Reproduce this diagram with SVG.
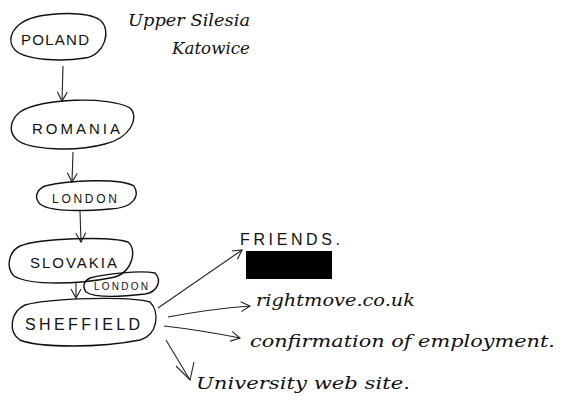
<svg xmlns="http://www.w3.org/2000/svg" width="561" height="407" viewBox="0 0 561 407">
<style>
.n{fill:none;stroke:#111;stroke-width:1.4}
.c{fill:none;stroke:#222;stroke-width:1.1}
.t{font-family:"Liberation Sans",Arial,sans-serif;fill:#111}
.cap{font-size:15px}
.h{font-family:"DejaVu Serif","Liberation Serif",serif;font-style:italic;fill:#111;font-size:17px}
</style>
<defs>
<marker id="ah" markerWidth="12" markerHeight="12" refX="10" refY="6" orient="auto" markerUnits="userSpaceOnUse">
<path d="M1,1 L10,6 L1,11" fill="none" stroke="#222" stroke-width="1.1"/>
</marker>
</defs>
<rect width="561" height="407" fill="#fff"/>
<g id="connectors">
<path class="c" d="M63,66 L62,101" marker-end="url(#ah)"/>
<path class="c" d="M73,152 L72,182" marker-end="url(#ah)"/>
<path class="c" d="M80,211 L81,242" marker-end="url(#ah)"/>
<path class="c" d="M76,283 L76,298" marker-end="url(#ah)"/>
<path class="c" d="M158,308 L242,250" marker-end="url(#ah)"/>
<path class="c" d="M168,317 Q210,309 250,306" marker-end="url(#ah)"/>
<path class="c" d="M164,326 Q200,330 240,338" marker-end="url(#ah)"/>
<path class="c" d="M166,340 L190,380"/>
<path class="c" d="M176,366 L190,380 L194,362"/>
</g>
<g id="poland">
<path class="n" d="M20,24 C35,12 85,10 100,20 C112,30 105,55 85,58 C60,62 25,60 15,50 C8,42 10,32 20,24"/>
<text class="t cap" x="21" y="45" textLength="68" lengthAdjust="spacing">POLAND</text>
</g>
<g id="upper-silesia">
<text class="h" x="128" y="26" textLength="122" lengthAdjust="spacingAndGlyphs">Upper Silesia</text>
<text class="h" x="172" y="54" textLength="78" lengthAdjust="spacingAndGlyphs">Katowice</text>
</g>
<g id="romania">
<path class="n" d="M20,112 C40,98 110,96 130,108 C140,118 130,138 105,144 C75,152 30,150 17,140 C8,132 10,120 20,112"/>
<text class="t cap" x="32" y="134" textLength="88" lengthAdjust="spacing">ROMANIA</text>
</g>
<g id="london1">
<path class="n" d="M45,186 C70,180 120,178 134,186 C140,196 134,208 110,209 C85,211 50,212 40,204 C34,198 36,190 45,186"/>
<text class="t" x="52" y="203" font-size="12" textLength="65" lengthAdjust="spacing">LONDON</text>
</g>
<g id="slovakia">
<path class="n" d="M20,246 C40,238 110,236 128,242 C138,250 132,275 110,278 C80,284 30,286 14,276 C6,268 8,252 20,246"/>
<text class="t cap" x="30" y="268" textLength="87" lengthAdjust="spacing">SLOVAKIA</text>
</g>
<g id="london2">
<path class="n" d="M90,278 C105,274 140,270 155,273 C162,280 158,292 145,294 C120,297 95,298 86,292 C82,286 84,281 90,278"/>
<text class="t" x="94" y="290" font-size="10" textLength="54" lengthAdjust="spacing">LONDON</text>
</g>
<g id="sheffield">
<path class="n" d="M25,305 C50,298 130,296 150,302 C160,312 158,335 140,340 C100,348 40,348 20,340 C8,332 10,312 25,305"/>
<text class="t" x="25" y="330" font-size="16" textLength="115" lengthAdjust="spacing">SHEFFIELD</text>
</g>
<g id="friends">
<text class="t" x="240" y="245" font-size="16" textLength="100" lengthAdjust="spacing">FRIENDS.</text>
<rect x="246" y="251" width="86" height="28" fill="#000"/>
</g>
<g id="rightmove">
<text class="h" x="256" y="306" font-size="18" textLength="159" lengthAdjust="spacingAndGlyphs">rightmove.co.uk</text>
</g>
<g id="confirmation">
<text class="h" x="250" y="347" font-size="19" textLength="305" lengthAdjust="spacingAndGlyphs">confirmation of employment.</text>
</g>
<g id="university">
<text class="h" x="196" y="389" font-size="19" textLength="214" lengthAdjust="spacingAndGlyphs">University web site.</text>
</g>
</svg>
